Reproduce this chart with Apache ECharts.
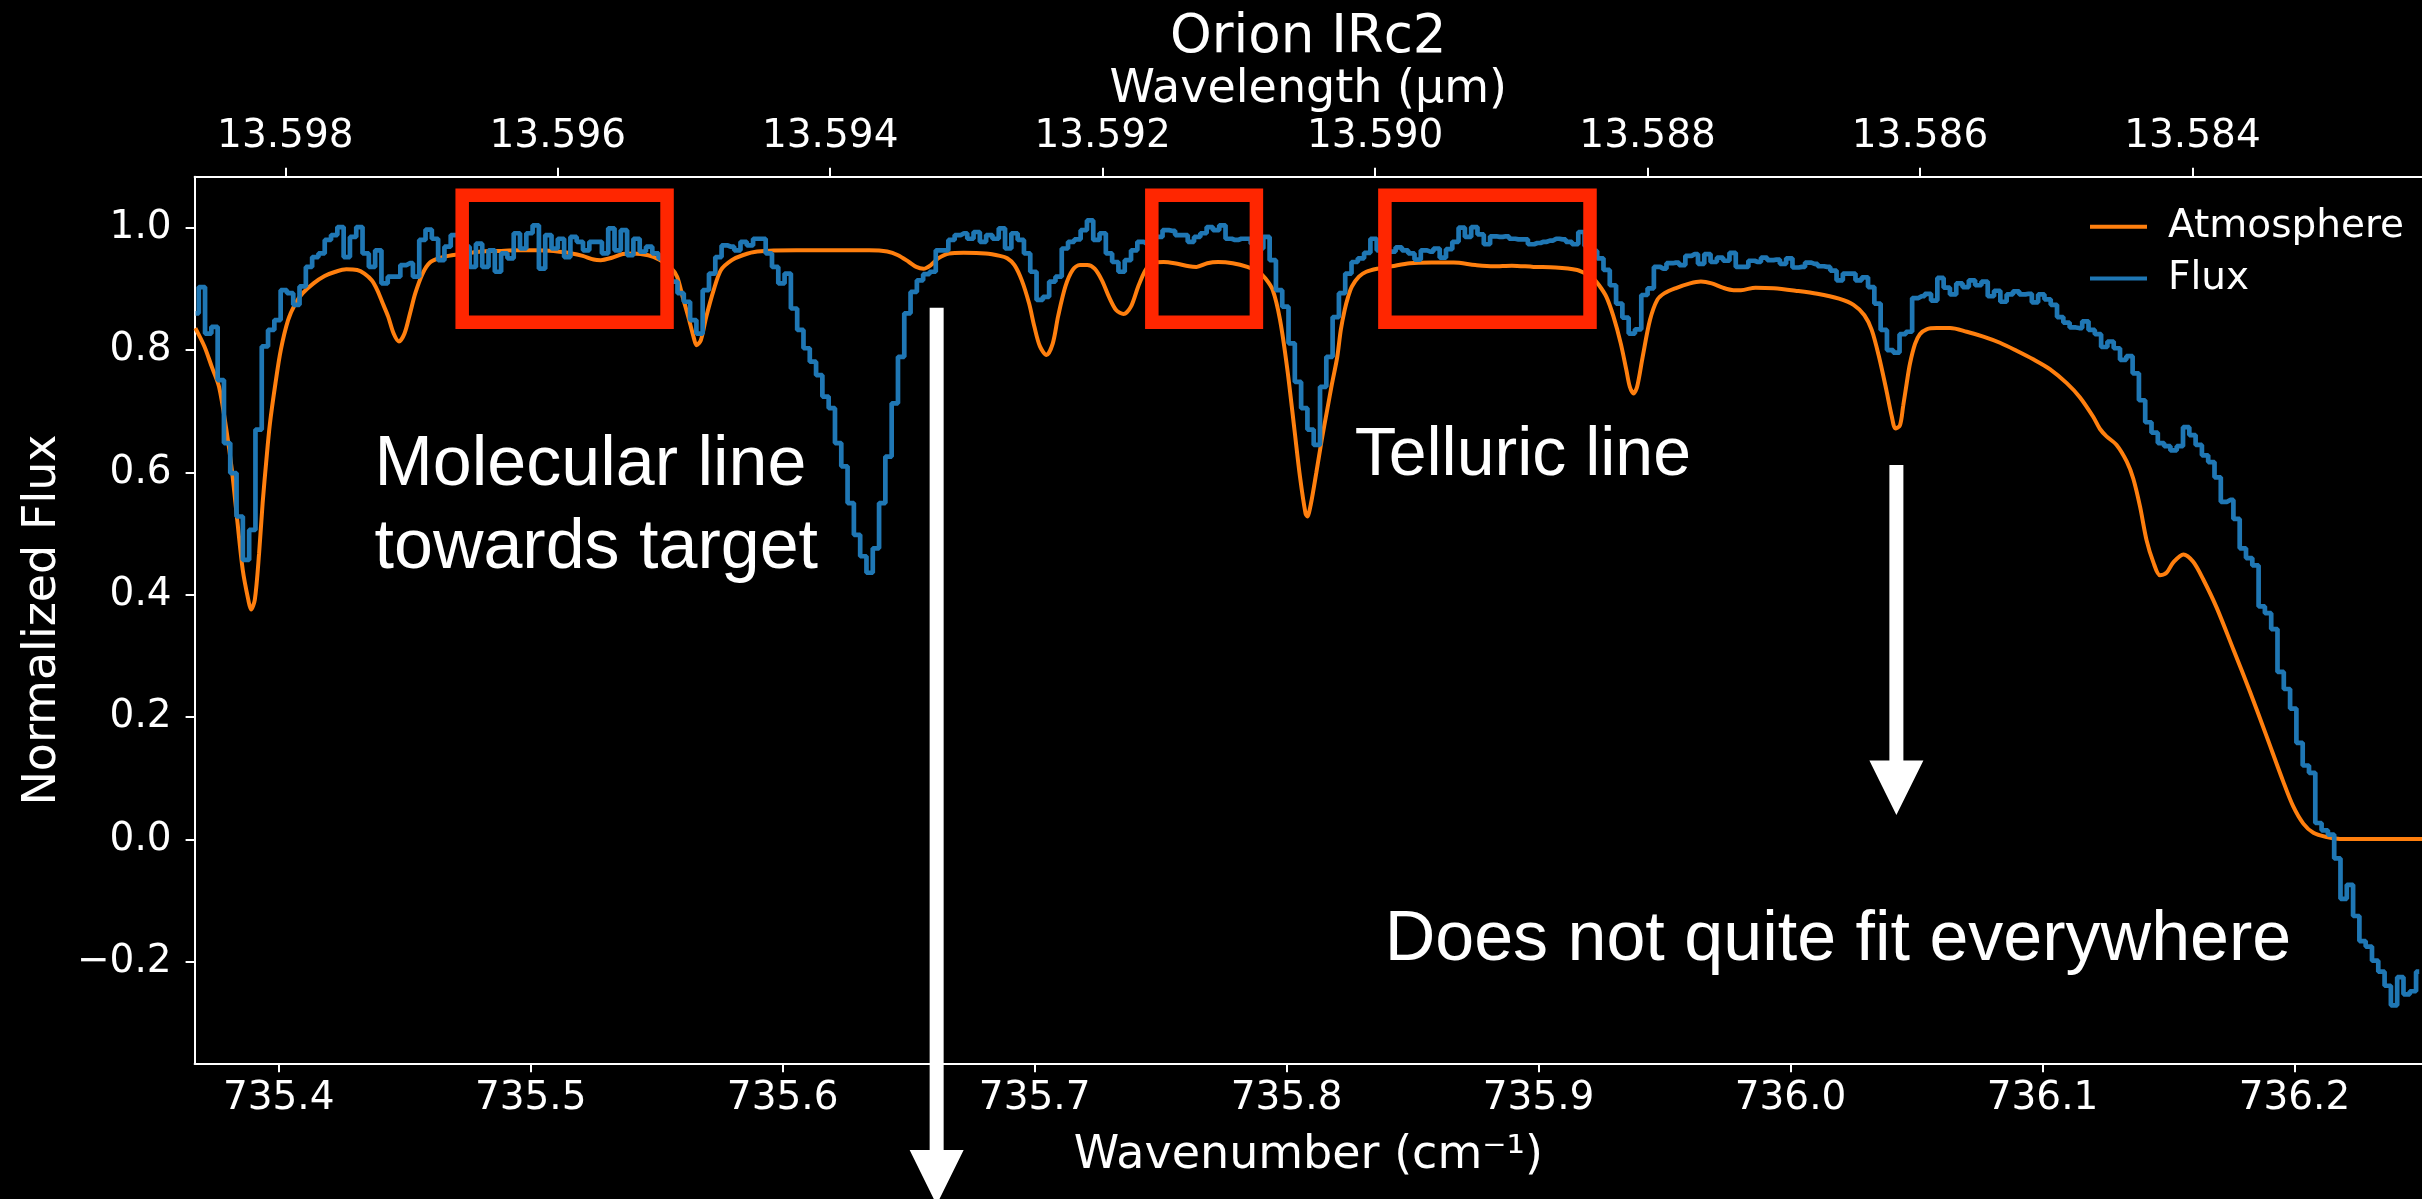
<!DOCTYPE html>
<html>
<head>
<meta charset="utf-8">
<title>Orion IRc2</title>
<script src="https://cdn.jsdelivr.net/npm/echarts@6/dist/echarts.min.js"></script>
<style>
  html, body { margin: 0; padding: 0; background: #000; }
  #chart { width: 2422px; height: 1199px; }
</style>
</head>
<body>
<div id="chart"></div>
<script>
// Observed normalized flux on a uniform wavenumber grid (cm^-1)
const FLUX_START = 735.367;
const FLUX_STEP = 0.0025;
const FLUX = [
  0.860, 0.903, 0.827, 0.838, 0.751, 0.648, 0.599, 0.528, 0.457, 0.506,
  0.670, 0.806, 0.833, 0.849, 0.898, 0.893, 0.874, 0.904, 0.936, 0.952,
  0.958, 0.980, 0.988, 1.001, 0.952, 0.985, 1.001, 0.958, 0.936, 0.963,
  0.909, 0.920, 0.920, 0.939, 0.942, 0.920, 0.980, 0.997, 0.982, 0.947,
  0.969, 0.988, 0.985, 0.969, 0.936, 0.974, 0.936, 0.963, 0.928, 0.958,
  0.950, 0.991, 0.966, 0.991, 1.004, 0.933, 0.988, 0.966, 0.982, 0.952,
  0.985, 0.977, 0.963, 0.977, 0.977, 0.958, 0.999, 0.963, 0.996, 0.955,
  0.982, 0.961, 0.969, 0.958, 0.950, 0.931, 0.912, 0.893, 0.879, 0.849,
  0.827, 0.898, 0.925, 0.952, 0.971, 0.969, 0.963, 0.977, 0.971, 0.982,
  0.982, 0.958, 0.936, 0.909, 0.925, 0.868, 0.833, 0.803, 0.781, 0.759,
  0.724, 0.705, 0.648, 0.610, 0.550, 0.498, 0.463, 0.436, 0.476, 0.550,
  0.626, 0.713, 0.789, 0.860, 0.895, 0.914, 0.924, 0.928, 0.963, 0.963,
  0.980, 0.988, 0.991, 0.982, 0.993, 0.977, 0.988, 0.982, 0.999, 0.966,
  0.991, 0.980, 0.958, 0.928, 0.882, 0.887, 0.912, 0.920, 0.966, 0.977,
  0.981, 0.996, 1.012, 0.980, 0.991, 0.958, 0.944, 0.928, 0.947, 0.963,
  0.977, 0.974, 0.985, 0.985, 0.996, 0.995, 0.988, 0.988, 0.977, 0.985,
  0.991, 1.001, 0.996, 1.004, 0.982, 0.980, 0.982, 0.982, 0.974, 0.966,
  0.985, 0.947, 0.898, 0.871, 0.811, 0.748, 0.705, 0.670, 0.645, 0.740,
  0.789,
  0.854, 0.893, 0.925, 0.944, 0.950, 0.959, 0.982, 0.963, 0.961, 0.961,
  0.968, 0.963, 0.958, 0.948, 0.963, 0.961, 0.966, 0.951, 0.965, 0.977,
  1.000, 0.985, 1.001, 0.989, 0.973, 0.986, 0.985, 0.986, 0.982, 0.981,
  0.981, 0.973, 0.975, 0.977, 0.979, 0.982, 0.981, 0.977, 0.973, 0.993,
  0.970, 0.962, 0.950, 0.931, 0.906, 0.876, 0.853, 0.827, 0.834, 0.890,
  0.901, 0.936, 0.933, 0.942, 0.943, 0.939, 0.954, 0.957, 0.941, 0.957,
  0.944, 0.951, 0.946, 0.959, 0.936, 0.936, 0.946, 0.944, 0.951, 0.947,
  0.948, 0.941, 0.950, 0.935, 0.936, 0.943, 0.941, 0.937, 0.936, 0.930,
  0.914, 0.925, 0.925, 0.914, 0.919, 0.903, 0.876, 0.833, 0.800, 0.796,
  0.826, 0.830, 0.885, 0.888, 0.892, 0.881, 0.918, 0.902, 0.891, 0.909,
  0.903, 0.914, 0.906, 0.912, 0.888, 0.897, 0.879, 0.891, 0.896, 0.891,
  0.892, 0.878, 0.891, 0.883, 0.874, 0.854, 0.845, 0.837, 0.836, 0.847,
  0.833, 0.826, 0.805, 0.814, 0.803, 0.784, 0.790, 0.762, 0.718, 0.682,
  0.665, 0.648, 0.643, 0.636, 0.643, 0.674, 0.661, 0.645, 0.628, 0.617,
  0.592, 0.552, 0.555, 0.524, 0.476, 0.460, 0.448, 0.381, 0.370, 0.344,
  0.274, 0.246, 0.214, 0.158, 0.121, 0.109, 0.027, 0.015, 0.008, -0.031,
  -0.097, -0.074, -0.125, -0.166, -0.175, -0.198, -0.216, -0.239, -0.271, -0.225,
  -0.253, -0.248, -0.216
];

// Telluric (atmospheric) transmission model
const ATMOS_WN = [
  735.3669, 735.3705, 735.3734, 735.3763, 735.3792, 735.3814, 735.3835, 735.3857, 735.3879, 735.3890,
  735.3905, 735.3922, 735.3936, 735.3951, 735.3965, 735.3987, 735.4008, 735.4037, 735.4066, 735.4095,
  735.4138, 735.4182, 735.4225, 735.4268, 735.4311, 735.4340, 735.4369, 735.4391, 735.4413, 735.4434,
  735.4456, 735.4477, 735.4499, 735.4521, 735.4542, 735.4571, 735.4600, 735.4643, 735.4687, 735.4745,
  735.4802, 735.4874, 735.4946, 735.5019, 735.5091, 735.5163, 735.5206, 735.5250, 735.5278, 735.5322,
  735.5365, 735.5408, 735.5466, 735.5509, 735.5553, 735.5581, 735.5603, 735.5625, 735.5646, 735.5658,
  735.5675, 735.5697, 735.5726, 735.5755, 735.5798, 735.5841, 735.5899, 735.6054, 735.6198, 735.6343,
  735.6415, 735.6458, 735.6501, 735.6530, 735.6559, 735.6588, 735.6617, 735.6660, 735.6718, 735.6805,
  735.6862, 735.6891, 735.6920, 735.6949, 735.6978, 735.6999, 735.7021, 735.7047, 735.7072, 735.7093,
  735.7122, 735.7151, 735.7180, 735.7209, 735.7238, 735.7267, 735.7295, 735.7324, 735.7353, 735.7382,
  735.7411, 735.7440, 735.7468, 735.7512, 735.7555, 735.7613, 735.7642, 735.7685, 735.7728, 735.7786,
  735.7844, 735.7887, 735.7916, 735.7945, 735.7974, 735.8003, 735.8031, 735.8053, 735.8075, 735.8082,
  735.8096, 735.8118, 735.8140, 735.8160, 735.8180, 735.8201, 735.8215, 735.8230, 735.8244, 735.8259,
  735.8287, 735.8316, 735.8360, 735.8417, 735.8489, 735.8576, 735.8663, 735.8749, 735.8821, 735.8894,
  735.8980, 735.9067, 735.9153, 735.9182, 735.9211, 735.9240, 735.9269, 735.9297, 735.9326, 735.9348,
  735.9362, 735.9377, 735.9391, 735.9413, 735.9442, 735.9471, 735.9500, 735.9543, 735.9601, 735.9644,
  735.9687, 735.9731, 735.9774, 735.9803, 735.9861, 735.9933, 736.0019, 736.0106, 736.0192, 736.0250,
  736.0293, 736.0322, 736.0351, 736.0380, 736.0402, 736.0416, 736.0434, 736.0447, 736.0461, 736.0474,
  736.0494, 736.0513, 736.0540, 736.0580, 736.0633, 736.0699, 736.0765, 736.0831, 736.0897, 736.0963,
  736.1029, 736.1096, 736.1148, 736.1201, 736.1228, 736.1254, 736.1294, 736.1334, 736.1360, 736.1387,
  736.1413, 736.1440, 736.1466, 736.1492, 736.1519, 736.1559, 736.1598, 736.1638, 736.1691, 736.1757,
  736.1823, 736.1889, 736.1955, 736.1995, 736.2035, 736.2075, 736.2128, 736.2180, 736.2286, 736.2506
];
const ATMOS = [
  0.836, 0.806, 0.773, 0.740, 0.670, 0.604, 0.523, 0.441, 0.392, 0.376,
  0.392, 0.468, 0.550, 0.621, 0.680, 0.746, 0.800, 0.849, 0.876, 0.893,
  0.909, 0.921, 0.928, 0.932, 0.931, 0.925, 0.914, 0.898, 0.876, 0.855,
  0.827, 0.814, 0.827, 0.860, 0.893, 0.925, 0.943, 0.951, 0.955, 0.958,
  0.961, 0.962, 0.963, 0.963, 0.962, 0.958, 0.954, 0.948, 0.947, 0.951,
  0.957, 0.958, 0.955, 0.948, 0.936, 0.920, 0.887, 0.855, 0.822, 0.808,
  0.816, 0.855, 0.898, 0.931, 0.947, 0.955, 0.961, 0.963, 0.963, 0.963,
  0.961, 0.955, 0.944, 0.936, 0.933, 0.939, 0.950, 0.958, 0.959, 0.958,
  0.954, 0.950, 0.939, 0.914, 0.876, 0.838, 0.806, 0.792, 0.811, 0.855,
  0.904, 0.931, 0.939, 0.939, 0.933, 0.914, 0.887, 0.865, 0.859, 0.871,
  0.904, 0.931, 0.943, 0.944, 0.942, 0.937, 0.936, 0.942, 0.944, 0.942,
  0.936, 0.928, 0.917, 0.898, 0.849, 0.768, 0.670, 0.593, 0.533, 0.528,
  0.548, 0.600, 0.655, 0.700, 0.745, 0.789, 0.833, 0.865, 0.887, 0.904,
  0.920, 0.928, 0.933, 0.937, 0.942, 0.943, 0.943, 0.939, 0.937, 0.938,
  0.936, 0.935, 0.931, 0.926, 0.920, 0.906, 0.887, 0.855, 0.811, 0.768,
  0.740, 0.729, 0.740, 0.789, 0.849, 0.882, 0.893, 0.901, 0.909, 0.912,
  0.909, 0.902, 0.898, 0.898, 0.902, 0.901, 0.897, 0.892, 0.884, 0.874,
  0.857, 0.833, 0.789, 0.735, 0.691, 0.672, 0.677, 0.709, 0.746, 0.778,
  0.810, 0.826, 0.834, 0.836, 0.836, 0.830, 0.822, 0.812, 0.799, 0.785,
  0.769, 0.746, 0.723, 0.691, 0.671, 0.659, 0.645, 0.618, 0.590, 0.544,
  0.489, 0.453, 0.432, 0.436, 0.453, 0.466, 0.454, 0.425, 0.379, 0.311,
  0.242, 0.169, 0.095, 0.054, 0.026, 0.011, 0.004, 0.001, 0.001, 0.001
];

// Axis ticks and ranges
const WN_TICKS = [735.4, 735.5, 735.6, 735.7, 735.8, 735.9, 736.0, 736.1, 736.2];
const WL_TICKS = [13.598, 13.596, 13.594, 13.592, 13.590, 13.588, 13.586, 13.584];
const FLUX_TICKS = [-0.2, 0.0, 0.2, 0.4, 0.6, 0.8, 1.0];
const WN_RANGE = [735.3666, 736.2506];
const WL_RANGE = [13.582315, 13.598666];
const FLUX_RANGE = [-0.3658, 1.0834];

// Continuum windows used for the fit: wavenumber spans and flux band
const WINDOWS = [[735.4728, 735.5541], [735.7465, 735.7880], [735.8390, 735.9204]];
const WINDOW_BAND = [0.8454, 1.0530];

// Callout arrows: wavenumber, shaft start, head base, tip (flux units)
const ARROWS = [
  { wn: 735.6611, from: 0.869, head: -0.5075, to: -0.597 },
  { wn: 736.0420, from: 0.612, head: 0.1293, to: 0.0400 }
];

// Callout texts anchored at their left edge / vertical middle
const NOTES = [
  { text: 'Molecular line\ntowards target', wn: 735.4380, flux: 0.5432, size: 70 },
  { text: 'Telluric line', wn: 735.8270, flux: 0.6262, size: 68 },
  { text: 'Does not quite fit everywhere', wn: 735.8389, flux: -0.1651, size: 70 }
];

const MPL_FONT = '"DejaVu Sans", sans-serif';
const NOTE_FONT = '"Liberation Sans", Arial, sans-serif';
const WHITE = '#ffffff';
const fmtFlux = v => (v < 0 ? '\u2212' : '') + Math.abs(v).toFixed(1);

const chart = echarts.init(document.getElementById('chart'), null, { width: 2422, height: 1199 });

const axisLine = { show: true, onZero: false, lineStyle: { color: WHITE, width: 2 } };
const tickStyle = { color: WHITE, width: 2 };
const labelBase = { color: WHITE, fontFamily: MPL_FONT, fontSize: 39 };
const nameStyle = { color: WHITE, fontFamily: MPL_FONT, fontSize: 46 };

chart.setOption({
  backgroundColor: '#000000',
  animation: false,
  grid: { left: 194.6, right: 0, top: 176.7, bottom: 135.7 },
  legend: {
    data: ['Atmosphere', 'Flux'],
    orient: 'vertical',
    left: 2085,
    top: 201.8,
    icon: 'rect',
    itemWidth: 57,
    itemHeight: 4,
    itemGap: 11.6,
    textStyle: { color: WHITE, fontFamily: MPL_FONT, fontSize: 39, lineHeight: 40, padding: [0, 0, 0, 16] }
  },
  xAxis: [
    {
      type: 'value',
      position: 'bottom',
      min: WN_RANGE[0],
      max: WN_RANGE[1],
      name: 'Wavenumber (cm\u207B\u00B9)',
      nameLocation: 'middle',
      nameGap: 70,
      nameTextStyle: nameStyle,
      axisLine: axisLine,
      axisTick: { show: true, customValues: WN_TICKS, length: 9, lineStyle: tickStyle },
      axisLabel: Object.assign({ customValues: WN_TICKS, margin: 16, formatter: v => v.toFixed(1) }, labelBase),
      splitLine: { show: false }
    },
    {
      type: 'value',
      position: 'top',
      inverse: true,
      min: WL_RANGE[0],
      max: WL_RANGE[1],
      name: 'Wavelength (\u03BCm)',
      nameLocation: 'middle',
      nameGap: 62,
      nameTextStyle: nameStyle,
      axisLine: axisLine,
      axisTick: { show: true, customValues: WL_TICKS, length: 9, lineStyle: tickStyle },
      axisLabel: Object.assign({ customValues: WL_TICKS, margin: 20, formatter: v => v.toFixed(3) }, labelBase),
      splitLine: { show: false }
    }
  ],
  yAxis: {
    type: 'value',
    min: FLUX_RANGE[0],
    max: FLUX_RANGE[1],
    name: 'Normalized Flux',
    nameLocation: 'middle',
    nameGap: 129,
    nameTextStyle: nameStyle,
    axisLine: axisLine,
    axisTick: { show: true, customValues: FLUX_TICKS, length: 9, lineStyle: tickStyle },
    axisLabel: Object.assign({ customValues: FLUX_TICKS, margin: 23, formatter: fmtFlux }, labelBase),
    splitLine: { show: false }
  },
  series: [
    {
      name: 'Atmosphere',
      type: 'line',
      xAxisIndex: 0,
      data: ATMOS_WN.map((w, i) => [w, ATMOS[i]]),
      symbol: 'none',
      smooth: 0.3,
      lineStyle: { color: '#ff7f0e', width: 4 },
      itemStyle: { color: '#ff7f0e' },
      z: 2
    },
    {
      name: 'Flux',
      type: 'line',
      xAxisIndex: 0,
      data: FLUX.map((v, i) => [FLUX_START + i * FLUX_STEP, v]),
      step: 'middle',
      symbol: 'none',
      lineStyle: { color: '#1f77b4', width: 4.7 },
      itemStyle: { color: '#1f77b4' },
      z: 3
    }
  ]
});

// Overlay: title, continuum windows, arrows and callout texts
const toPx = (w, f) => chart.convertToPixel({ xAxisIndex: 0, yAxisIndex: 0 }, [w, f]);
const graphics = [];

const centerX = toPx((WN_RANGE[0] + WN_RANGE[1]) / 2, 0)[0];
graphics.push({
  type: 'text', z: 100, x: centerX, y: 38.4,
  style: { text: 'Orion IRc2', fill: WHITE, fontFamily: MPL_FONT, fontSize: 53, align: 'center', verticalAlign: 'middle' }
});

WINDOWS.forEach(([lo, hi]) => {
  const a = toPx(lo, WINDOW_BAND[1]);
  const b = toPx(hi, WINDOW_BAND[0]);
  graphics.push({
    type: 'rect', z: 90,
    shape: { x: a[0], y: a[1], width: b[0] - a[0], height: b[1] - a[1] },
    style: { fill: 'none', stroke: '#ff2600', lineWidth: 13.5 }
  });
});

ARROWS.forEach(ar => {
  const [x, yTop] = toPx(ar.wn, ar.from);
  const yHead = toPx(ar.wn, ar.head)[1];
  const yTip = toPx(ar.wn, ar.to)[1];
  const s = 7, h = 27;
  graphics.push({
    type: 'polygon', z: 95,
    shape: { points: [[x - s, yTop], [x + s, yTop], [x + s, yHead], [x + h, yHead], [x, yTip], [x - h, yHead], [x - s, yHead]] },
    style: { fill: WHITE }
  });
});

NOTES.forEach(n => {
  const [x, y] = toPx(n.wn, n.flux);
  graphics.push({
    type: 'text', z: 100, x: x, y: y,
    style: { text: n.text, fill: WHITE, fontFamily: NOTE_FONT, fontSize: n.size, lineHeight: 83, align: 'left', verticalAlign: 'middle' }
  });
});

chart.setOption({ graphic: graphics });
</script>
</body>
</html>
